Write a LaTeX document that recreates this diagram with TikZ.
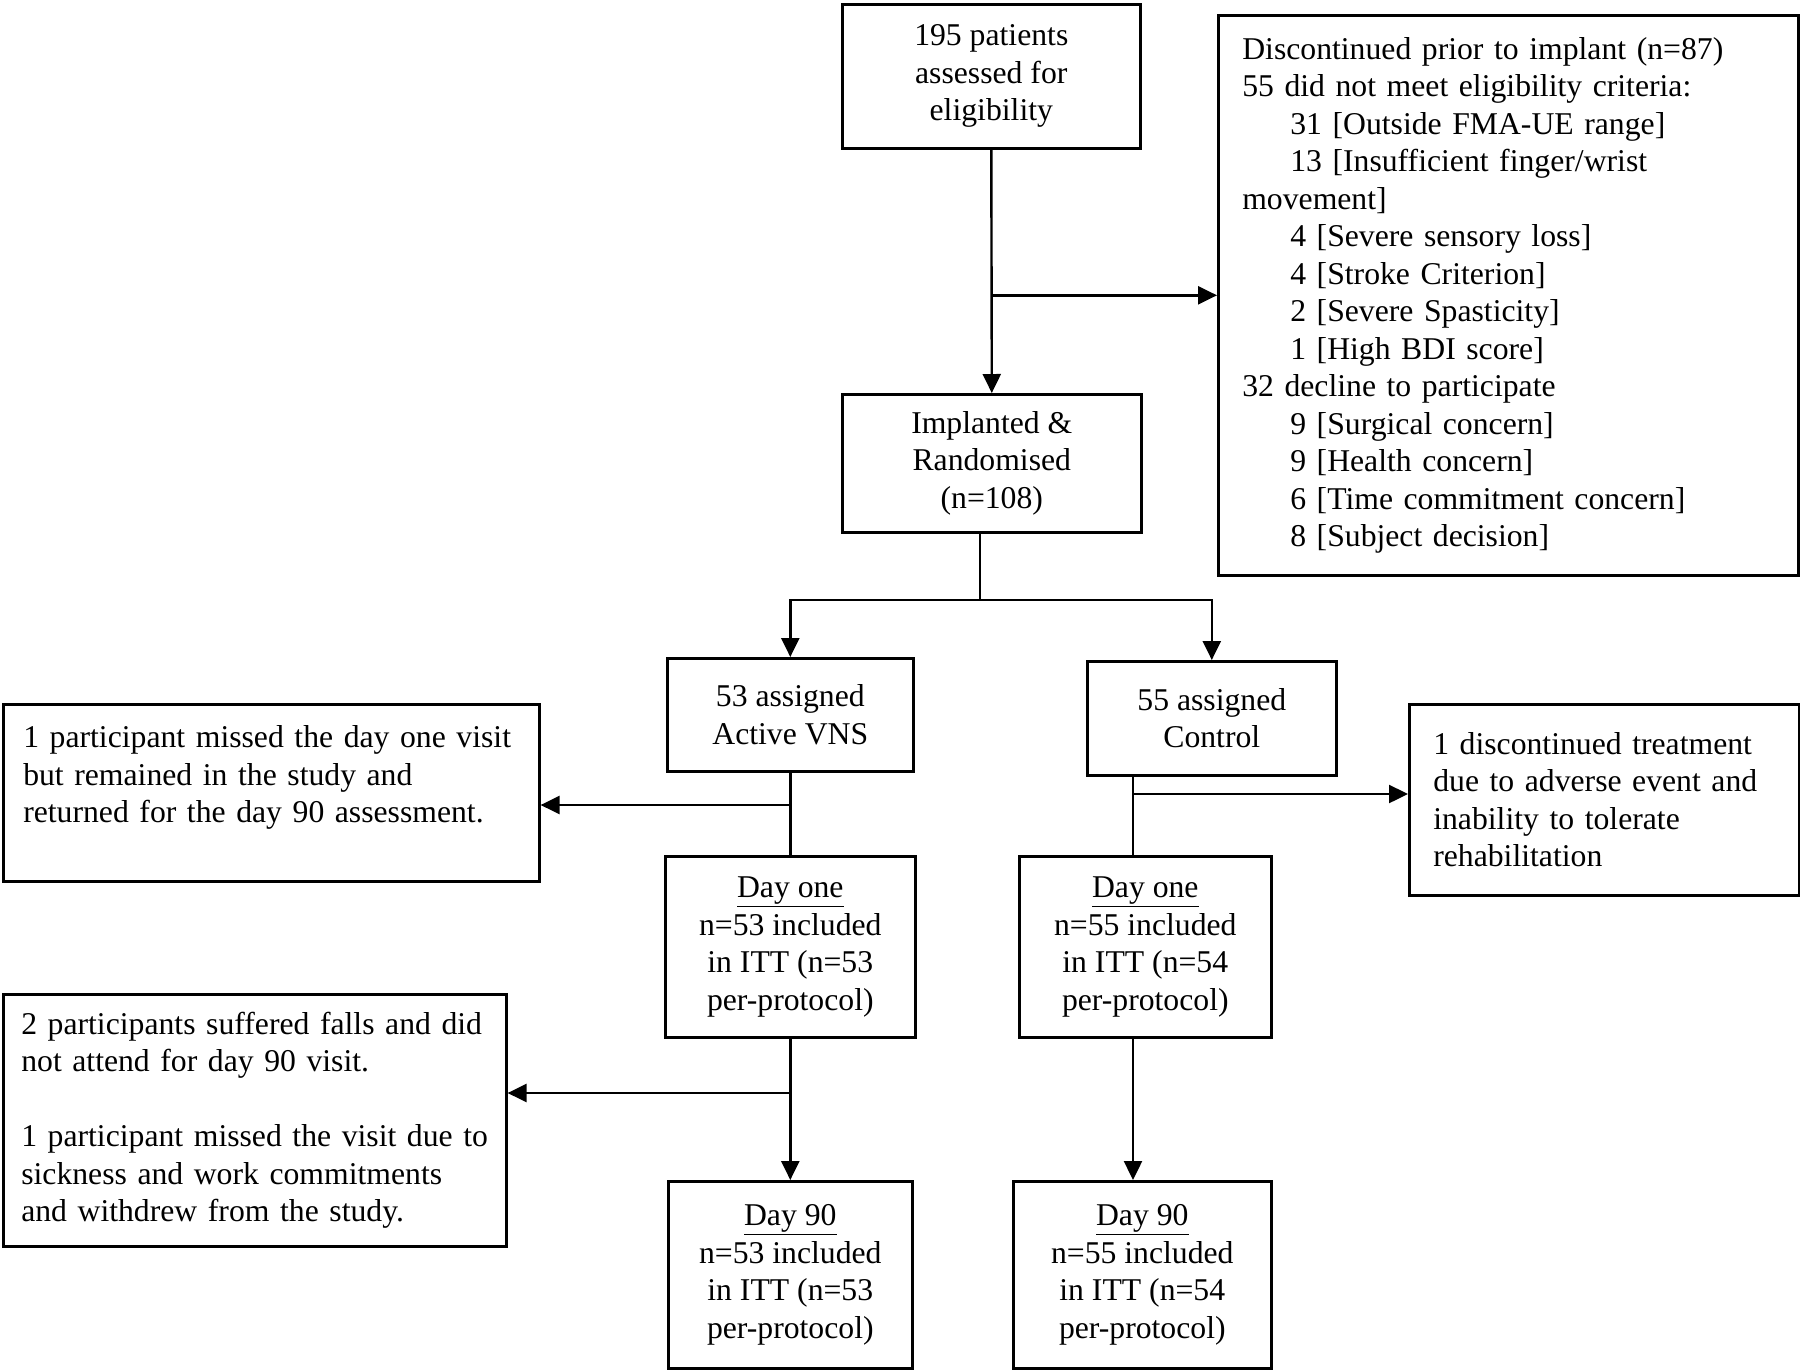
\documentclass[tikz,border=0pt]{standalone}
\usepackage{fontspec}
\setmainfont{Liberation Serif}
\usetikzlibrary{arrows.meta}

\tikzset{
	box/.style={draw, line width=2.6pt, anchor=north west, align=center, inner sep=0pt,
		font=\fontsize{31.7}{37.5}\selectfont},
	sidebox/.style={box, align=left, inner xsep=24pt},
	link/.style={line width=2.4pt},
}

\begin{document}
\begin{tikzpicture}[x=1pt, y=-1pt, >={Triangle[length=19pt,width=18pt]}]
	\useasboundingbox (0,0) rectangle (1800,1369);
	% main column
	\node[box, minimum width=298pt, minimum height=144pt] (elig) at (841,3) {195 patients\\assessed for\\eligibility};
	\node[box, minimum width=299pt, minimum height=138pt] (rand) at (841,393) {Implanted \&\\Randomised\\(n=108)};
	\node[sidebox, text width=532pt, minimum width=580pt, minimum height=560pt] (excl) at (1217,14) {Discontinued prior to implant (n=87)\\
		55 did not meet eligibility criteria:\\
		\hspace*{48pt}31 [Outside FMA-UE range]\\
		\hspace*{48pt}13 [Insufficient finger/wrist\\
		movement]\\
		\hspace*{48pt}4 [Severe sensory loss]\\
		\hspace*{48pt}4 [Stroke Criterion]\\
		\hspace*{48pt}2 [Severe Spasticity]\\
		\hspace*{48pt}1 [High BDI score]\\
		32 decline to participate\\
		\hspace*{48pt}9 [Surgical concern]\\
		\hspace*{48pt}9 [Health concern]\\
		\hspace*{48pt}6 [Time commitment concern]\\
		\hspace*{48pt}8 [Subject decision]};
	% arms
	\node[box, minimum width=246pt, minimum height=113pt] (vns) at (666,657) {53 assigned\\Active VNS};
	\node[box, minimum width=249pt, minimum height=114pt] (ctrl) at (1086,660) {55 assigned\\Control};
	\node[box, minimum width=250pt, minimum height=181pt] (dayoneL) at (664,855) {\underline{Day one}\\n=53 included\\in ITT (n=53\\per-protocol)};
	\node[box, minimum width=252pt, minimum height=181pt] (dayoneR) at (1018,855) {\underline{Day one}\\n=55 included\\in ITT (n=54\\per-protocol)};
	\node[box, minimum width=244pt, minimum height=187pt] (dayninetyL) at (667,1180) {\underline{Day 90}\\n=53 included\\in ITT (n=53\\per-protocol)};
	\node[box, minimum width=258pt, minimum height=187pt] (dayninetyR) at (1012,1180) {\underline{Day 90}\\n=55 included\\in ITT (n=54\\per-protocol)};
	% side notes
	\node[sidebox, inner xsep=20pt, text width=496pt, minimum width=536pt, minimum height=177pt] (missL) at (2,703) {1 participant missed the day one visit\\but remained in the study and\\returned for the day 90 assessment.\\ \mbox{}};
	\node[sidebox, text width=342pt, minimum width=390pt, minimum height=191pt] (discR) at (1408,703) {1 discontinued treatment\\due to adverse event and\\inability to tolerate\\rehabilitation};
	\node[sidebox, inner xsep=18pt, text width=467pt, minimum width=503pt, minimum height=252pt] (lostL) at (2,993) {2 participants suffered falls and did\\not attend for day 90 visit.\\[37.5pt]1 participant missed the visit due to\\sickness and work commitments\\and withdrew from the study.};

	\coordinate (fork) at (980,600);
	\coordinate (missfork) at (789,805);
	\coordinate (lostfork) at (789,1093);
	\coordinate (ctrlfork) at (1133,794);

	\draw [link,->] (elig.south) -- (rand.north);
	\draw [link,->] (elig.south |- excl.west) -- (excl.west);
	\draw [link] (rand.south -| fork) -- (fork);
	\draw [link,<->] (vns.north) -- (vns.north |- fork) -- (ctrl.north |- fork) -- (ctrl.north);
	% active arm
	\draw [link] (vns.south) -- (dayoneL.north);
	\draw [link,->] (missfork) -- (missfork -| missL.east);
	\draw [link,->] (dayoneL.south) -- (dayninetyL.north);
	\draw [link,->] (lostfork) -- (lostfork -| lostL.east);
	% control arm
	\draw [link] (ctrlfork |- ctrl.south) -- (ctrlfork |- dayoneR.north);
	\draw [link,->] (ctrlfork) -- (ctrlfork -| discR.west);
	\draw [link,->] (ctrlfork |- dayoneR.south) -- (ctrlfork |- dayninetyR.north);
\end{tikzpicture}
\end{document}
